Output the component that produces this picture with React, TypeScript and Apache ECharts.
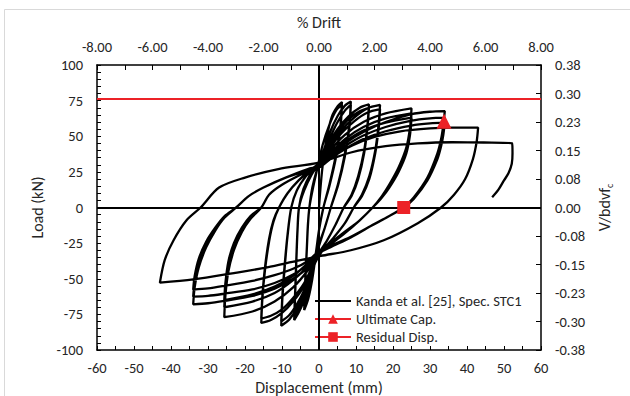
import React, { useEffect, useRef } from "react";
import * as echarts from "echarts";

// Load–displacement record, cycle by cycle: [displacement (mm), load (kN)]
const cycle1a = [
  [0, 0], [0.8, 25], [2, 48], [3.5, 64], [5, 71], [6.2, 74],
  [5.8, 58], [4.5, 36], [2.8, 16], [1.2, 0],
  [0, -16], [-0.8, -32], [-1.8, -50], [-2.9, -64], [-4, -72],
  [-3.7, -52], [-3.3, -30], [-3, -13], [-2.6, 0],
];
const cycle1b = [
  [-1.6, 14], [-0.4, 28], [1, 44], [2.8, 58], [4.6, 68], [6.2, 72],
  [5.8, 56], [4.5, 34], [2.8, 15], [1.2, 0],
  [0, -16], [-0.8, -31], [-1.8, -48], [-2.9, -61], [-4, -69],
  [-3.7, -50], [-3.3, -29], [-3, -12], [-2.6, 0],
];
const cycle2a = [
  [-1.8, 14], [-0.5, 27], [1, 38], [3, 53], [5, 64], [7, 71.5], [8.6, 74.4],
  [8.2, 58], [7, 38], [5.2, 17], [3.2, 0],
  [1.6, -14], [0, -27], [-1.6, -42], [-3.2, -58], [-4.8, -70], [-6.7, -79],
  [-6.4, -58], [-6.1, -36], [-5.8, -16], [-5.4, 0],
];
const cycle2b = [
  [-4.2, 13], [-2.2, 24], [0, 32], [2.5, 46], [4.8, 59], [7, 68], [8.6, 72],
  [8.2, 56], [7, 36], [5.2, 16], [3.2, 0],
  [1.6, -14], [0, -26], [-1.6, -40], [-3.2, -55], [-4.8, -67], [-6.7, -76],
  [-6.4, -56], [-6.1, -34], [-5.8, -15], [-5.4, 0],
];
const cycle3a = [
  [-4, 12], [-2, 23], [0, 31], [2.5, 44], [5, 55], [8, 64], [11, 70], [13.5, 72.3],
  [13.1, 58], [12.2, 40], [10.6, 22], [8.8, 9], [6.7, 0],
  [4.5, -12], [2, -24], [0, -32], [-2, -46], [-4, -60], [-6, -71], [-8, -78.5], [-10.2, -83],
  [-9.9, -64], [-9.3, -43], [-8.5, -20], [-7.5, 0],
];
const cycle3b = [
  [-6, 12], [-3.5, 22], [-1, 28.5], [0.5, 32], [2.5, 43], [5, 53], [8, 62], [11, 67.5], [13.5, 70],
  [13.1, 56], [12.2, 38], [10.6, 20], [8.8, 8], [6.7, 0],
  [4.5, -12], [2, -24], [0, -32], [-2, -45], [-4, -58], [-6, -68], [-8, -75.5], [-10.2, -80],
  [-9.9, -62], [-9.3, -41], [-8.5, -19], [-7.5, 0],
];
const cycle4a = [
  [-6, 12], [-3.5, 22], [-1, 28], [0.5, 32], [3, 43], [6, 54], [9.5, 63], [13, 69.5], [16.5, 72],
  [16.1, 58], [15.2, 40], [13.6, 22], [11.6, 9], [9.4, 0],
  [7, -11], [4, -21], [1, -30], [-1.5, -41], [-4, -55], [-7, -66], [-10, -74], [-13, -79], [-15.6, -81],
  [-15.3, -64], [-14.6, -44], [-13.5, -24], [-12.3, -10], [-10.8, 0],
];
const cycle4b = [
  [-8.5, 10], [-5.5, 19], [-2, 27], [0.5, 32], [3, 42], [6, 52], [9.5, 60.5], [13, 66.5], [16.5, 69],
  [16.1, 55], [15.2, 38], [13.6, 20], [11.6, 8], [9.4, 0],
  [7, -11], [4, -21], [1, -30], [-1.5, -40], [-4, -53], [-7, -63.5], [-10, -71.5], [-13, -76], [-15.6, -78],
  [-15.3, -62], [-14.6, -42], [-13.5, -22], [-12.3, -9], [-10.8, 0],
];
const cycle5a = [
  [-8.5, 10], [-5.5, 19], [-2, 27], [0.5, 31], [3, 40], [7, 51], [12, 60], [18, 66], [25, 69.5],
  [24.6, 56], [23.6, 42], [21.5, 28], [19, 16], [17, 8], [14.5, 0],
  [11, -9], [7, -18], [3, -26], [0, -32], [-3, -44], [-7, -56], [-12, -66], [-18, -73], [-25.6, -77],
  [-25.3, -62], [-24.5, -45], [-23, -30], [-20.8, -17], [-18.5, -8], [-15.6, 0],
];
const cycle5b = [
  [-13.5, 9], [-10, 16], [-5, 23], [0, 29.5], [3, 38], [7, 48], [12, 56.5], [18, 62.5], [25, 66],
  [24.6, 53], [23.6, 40], [21.5, 26], [19, 15], [17, 7], [14.5, 0],
  [11, -9], [7, -17], [3, -25], [0, -31], [-3, -41], [-7, -51], [-12, -60], [-18, -66], [-25.6, -70],
  [-25.3, -57], [-24.5, -41], [-23, -27], [-20.8, -15], [-18.5, -7], [-15.6, 0],
];
const cycle5c = [
  [-13.5, 9], [-10, 16], [-5, 23], [0, 29], [3, 37], [7, 46], [12, 54], [18, 59.5], [25, 63],
  [24.6, 51], [23.6, 38], [21.5, 25], [19, 14], [17, 7], [14.5, 0],
  [11, -9], [7, -17], [3, -25], [0, -31], [-3, -39], [-7, -48], [-12, -55.5], [-18, -61], [-25.6, -65],
  [-25.3, -53], [-24.5, -38], [-23, -25], [-20.8, -14], [-18.5, -6], [-15.6, 0],
];
const cycle6a = [
  [-13.5, 9], [-10, 16], [-5, 23], [0, 29], [3, 36], [7, 45], [12, 53], [18, 60], [25, 65.5], [30, 67.2], [34, 67.6],
  [33.6, 58], [33, 48], [32, 38], [29.3, 21], [25.6, 7], [22.9, 0],
  [19, -6], [14, -13], [8.6, -21], [3, -28], [0, -32], [-3, -42], [-7, -50], [-12, -57], [-18, -62], [-25.6, -65.5], [-30, -67.2], [-34, -68],
  [-33.6, -56], [-32.5, -42], [-30.5, -28], [-28, -16], [-25.5, -7], [-22.4, 0],
];
const cycle6b = [
  [-19, 8], [-15, 14], [-9, 21], [-3, 27], [0, 29], [3, 35], [7, 43], [12, 50.5], [18, 56.5], [25, 61], [30, 62.6], [34, 63],
  [33.6, 54], [33, 45], [32, 36], [29.3, 20], [25.6, 7], [22.9, 0],
  [19, -6], [14, -13], [8.6, -21], [3, -27.5], [0, -31], [-3, -40], [-7, -47], [-12, -53], [-18, -57.5], [-25.6, -60.5], [-30, -62], [-34, -62.5],
  [-33.6, -52], [-32.5, -39], [-30.5, -26], [-28, -15], [-25.5, -7], [-22.4, 0],
];
const cycle6c = [
  [-19, 8], [-15, 14], [-9, 21], [-3, 26.5], [0, 28.5], [3, 34], [7, 41], [12, 48], [18, 53.5], [25, 57.5], [30, 59], [34, 59.5],
  [33.6, 51], [33, 43], [32, 34], [29.3, 19], [25.6, 6], [22.9, 0],
  [19, -6], [14, -13], [8.6, -20.5], [3, -27], [0, -30.5], [-3, -37.5], [-7, -43], [-12, -47.5], [-18, -51.5], [-25.6, -55], [-30, -56.8], [-34, -57.6],
  [-33.6, -48], [-32.5, -36], [-30.5, -24], [-28, -14], [-25.5, -6], [-22.4, 0],
];
const cycle7 = [
  [-19, 8], [-15, 14], [-9, 21], [-3, 26], [0, 28], [4, 36], [9, 43.5], [15, 49.5], [22, 53.5], [30, 55.5], [36, 56], [43, 56],
  [42.6, 46], [41.6, 34], [39.5, 20], [36.5, 9], [33, 0],
  [26.7, -11], [17.5, -23], [8.6, -30], [0.5, -34], [-6, -37.5], [-14, -42], [-23, -46], [-34, -50.5], [-43, -52.7],
  [-41.7, -37], [-39.3, -23], [-35.8, -9], [-32, 0],
];
const finalExcursion = [
  [-27, 14], [-20, 21], [-11, 27], [0, 31.5], [8.6, 38.6], [18, 43], [26.7, 45], [36, 45.8], [44.5, 45.6], [52.2, 45],
  [52.3, 38], [52.1, 30.7], [51.2, 24], [50, 19], [48.5, 12.5], [46.8, 7.2],
];

const hysteresis = [
  ...cycle1a, ...cycle1b, ...cycle2a, ...cycle2b, ...cycle3a, ...cycle3b,
  ...cycle4a, ...cycle4b, ...cycle5a, ...cycle5b, ...cycle5c,
  ...cycle6a, ...cycle6b, ...cycle6c, ...cycle7, ...finalExcursion,
];

const ultimatePoint = [[33.8, 60.5]];
const residualPoint = [[22.9, 0]];
const capacityLevel = 76;

const dispRange = [-60, 60];
const driftRange = [-8, 8];
const loadRange = [-100, 100];
const stressRange = [-0.375, 0.375];

const seriesNames = ["Kanda et al. [25], Spec. STC1", "Ultimate Cap.", "Residual Disp."];

const FONT = "Carlito, Lato, 'Liberation Sans', sans-serif";
const INK = "#262626";
const RED = "#ec2227";

const twoDecimals = (v: number) => {
  const n = Math.round(Math.abs(v) * 1000);
  const h = Math.round(n / 10);
  const s = (h / 100).toFixed(2);
  return v < -1e-9 && h !== 0 ? "-" + s : s;
};

const labelStyle = { fontSize: 14.5, color: INK, fontFamily: FONT };
const nameStyle = { fontSize: 16, lineHeight: 16, color: INK, fontFamily: FONT };
const frameLine = { onZero: false, lineStyle: { color: "#000", width: 1.5 } };

export default function App() {
  const ref = useRef<HTMLDivElement>(null);

  useEffect(() => {
    const chart = echarts.init(ref.current!, null, { renderer: "svg" });
    chart.setOption({
      animation: false,
      backgroundColor: "#fff",
      textStyle: { fontFamily: FONT },
      grid: { left: 97, right: 89, top: 65, bottom: 46, containLabel: false, outerBoundsMode: "none" },
      graphic: [
        { type: "line", shape: { x1: 4.5, y1: 9.5, x2: 630, y2: 9.5 }, style: { stroke: "#d9d9d9", lineWidth: 1 } },
        { type: "line", shape: { x1: 4.5, y1: 9.5, x2: 4.5, y2: 396 }, style: { stroke: "#d9d9d9", lineWidth: 1 } },
      ],
      legend: {
        left: 309,
        top: 288,
        orient: "vertical",
        itemGap: 2,
        itemWidth: 36,
        itemHeight: 12,
        textStyle: { ...labelStyle, fontSize: 14.5, lineHeight: 16 },
        data: [
          { name: seriesNames[0], itemStyle: { opacity: 0 } },
          { name: seriesNames[1] },
          { name: seriesNames[2] },
        ],
      },
      xAxis: [
        {
          type: "value",
          position: "bottom",
          min: dispRange[0],
          max: dispRange[1],
          interval: 10,
          name: "Displacement (mm)",
          nameLocation: "middle",
          nameGap: 25,
          nameTextStyle: nameStyle,
          axisLine: frameLine,
          axisTick: { inside: true, length: 4, lineStyle: { color: "#000" } },
          minorTick: { show: true, splitNumber: 2, length: 4, lineStyle: { color: "#000" } },
          axisLabel: { ...labelStyle, margin: 10 },
          splitLine: { show: false },
        },
        {
          type: "value",
          position: "top",
          min: driftRange[0],
          max: driftRange[1],
          interval: 2,
          name: "% Drift",
          nameLocation: "middle",
          nameGap: 35,
          nameTextStyle: nameStyle,
          axisLine: frameLine,
          axisTick: { inside: true, length: 5, lineStyle: { color: "#000" } },
          minorTick: { show: true, splitNumber: 2, length: 5, lineStyle: { color: "#000" } },
          axisLabel: { ...labelStyle, margin: 11, formatter: (v: number) => v.toFixed(2) },
          splitLine: { show: false },
        },
      ],
      yAxis: [
        {
          type: "value",
          position: "left",
          min: loadRange[0],
          max: loadRange[1],
          interval: 25,
          name: "Load (kN)",
          nameLocation: "middle",
          nameRotate: 90,
          nameGap: 38,
          nameTextStyle: nameStyle,
          axisLine: frameLine,
          axisTick: { inside: true, length: 4, lineStyle: { color: "#000" } },
          minorTick: { show: true, splitNumber: 5, length: 4, lineStyle: { color: "#000" } },
          axisLabel: { ...labelStyle, margin: 14 },
          splitLine: { show: false },
        },
        {
          type: "value",
          position: "right",
          min: stressRange[0],
          max: stressRange[1],
          interval: 0.075,
          name: "V/bdvf{sub|c}",
          nameLocation: "middle",
          nameRotate: 90,
          nameGap: 36,
          nameTextStyle: {
            ...nameStyle,
            rich: { sub: { fontSize: 10, fontFamily: FONT, color: INK, verticalAlign: "bottom", padding: [0, 0, -2, 0] } },
          },
          axisLine: frameLine,
          axisTick: { inside: true, length: 5, lineStyle: { color: "#000" } },
          axisLabel: { ...labelStyle, margin: 14, formatter: twoDecimals },
          splitLine: { show: false },
        },
      ],
      series: [
        {
          name: seriesNames[0],
          type: "line",
          data: hysteresis,
          symbol: "none",
          smooth: 0.3,
          lineStyle: { color: "#000", width: 2.3 },
          itemStyle: { color: "#000" },
          markLine: {
            silent: true,
            symbol: "none",
            label: { show: false },
            lineStyle: { color: "#000", width: 2, type: "solid" },
            data: [{ xAxis: 0 }, { yAxis: 0 }],
          },
          z: 2,
        },
        {
          name: seriesNames[1],
          type: "line",
          data: ultimatePoint,
          symbol: "triangle",
          symbolSize: 15,
          itemStyle: { color: RED },
          lineStyle: { color: RED, width: 2.3 },
          markLine: {
            silent: true,
            symbol: "none",
            label: { show: false },
            lineStyle: { color: RED, width: 2, type: "solid" },
            data: [{ yAxis: capacityLevel }],
          },
          z: 5,
        },
        {
          name: seriesNames[2],
          type: "line",
          data: residualPoint,
          symbol: "rect",
          symbolSize: 13,
          itemStyle: { color: RED },
          lineStyle: { color: RED, width: 2.3 },
          z: 5,
        },
      ],
    });
    return () => chart.dispose();
  }, []);

  return (
    <div
      ref={ref}
      style={{ position: "fixed", left: 0, top: 0, width: 630, height: 396, background: "#fff" }}
    />
  );
}
